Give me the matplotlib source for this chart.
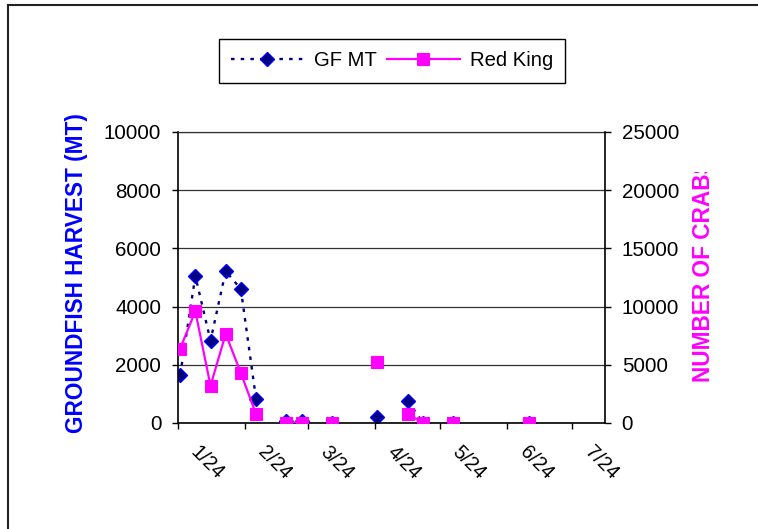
import numpy as np
import matplotlib
matplotlib.use('Agg')
import matplotlib.pyplot as plt
import matplotlib.dates as mdates
import matplotlib.ticker as mticker
import matplotlib.transforms as mtransforms
from matplotlib.lines import Line2D

plt.rcParams['font.family'] = ['Liberation Sans', 'DejaVu Sans']

# weekly samples, nan = no data that week (breaks the line)
week_dates = ['2004-01-25', '2004-02-01', '2004-02-08', '2004-02-15', '2004-02-22',
              '2004-02-29', '2004-03-07', '2004-03-14', '2004-03-21', '2004-03-28',
              '2004-04-04', '2004-04-11', '2004-04-18', '2004-04-25', '2004-05-02',
              '2004-05-09', '2004-05-16', '2004-05-23', '2004-05-30', '2004-06-06',
              '2004-06-13', '2004-06-20', '2004-06-27', '2004-07-04']
gf_mt = [1650, 5050, 2830, 5220, 4600,
         830, np.nan, 60, 60, np.nan,
         10, np.nan, np.nan, 200, np.nan,
         770, 5, np.nan, 5, np.nan,
         np.nan, np.nan, np.nan, 5]
red_king = [6400, 9600, 3200, 7650, 4300,
            750, np.nan, 40, 40, np.nan,
            30, np.nan, np.nan, 5200, np.nan,
            760, 20, np.nan, 20, np.nan,
            np.nan, np.nan, np.nan, 20]

x_start, x_end = '2004-01-24', '2004-08-08'
left_ticks = [0, 2000, 4000, 6000, 8000, 10000]
right_ticks = [0, 5000, 10000, 15000, 20000, 25000]

dates = np.array(week_dates, dtype='datetime64[D]')

W, H = 758, 529
fig = plt.figure(figsize=(W / 100, H / 100), dpi=100)
ax = fig.add_axes([178 / W, 106 / H, 427 / W, 291 / H])
ax2 = ax.twinx()

ax.plot(dates, gf_mt, color='#000080', ls=(0, (1.5, 2.6)), lw=1.7,
        marker='D', ms=7.4, mfc='#000080', mec='#0000ff', mew=1.0, label='GF MT')
ax2.plot(dates, red_king, color='#ff00ff', lw=1.6,
         marker='s', ms=8.5, mfc='#ff00ff', mec='#ff00ff', mew=0.8, label='Red King')

ax.set_xlim(np.datetime64(x_start), np.datetime64(x_end))
ax.set_ylim(left_ticks[0], left_ticks[-1])
ax2.set_ylim(right_ticks[0], right_ticks[-1])
ax.set_yticks(left_ticks)
ax2.set_yticks(right_ticks)

ax.xaxis.set_major_locator(mdates.MonthLocator(bymonthday=24))
ax.xaxis.set_major_formatter(mticker.FuncFormatter(
    lambda v, pos: '%d/%d' % (mdates.num2date(v).month, mdates.num2date(v).day)))

ax.grid(axis='y', color='#333333', lw=0.9)
ax.set_axisbelow(True)

for s in ['left', 'bottom']:
    ax.spines[s].set_color('black')
    ax.spines[s].set_linewidth(1.2)
ax.spines['right'].set_visible(False)
ax.spines['top'].set_color('#333333')
ax.spines['top'].set_linewidth(0.9)
for s in ['left', 'top', 'bottom']:
    ax2.spines[s].set_visible(False)
ax2.spines['right'].set_color('black')
ax2.spines['right'].set_linewidth(1.2)

ax.tick_params(axis='y', direction='out', length=4.5, width=1, pad=7.5, labelsize=14.8)
ax2.tick_params(axis='y', direction='out', length=4.5, width=1, pad=7.5, labelsize=14.8)
ax.tick_params(axis='x', direction='out', length=4.5, width=1, pad=2, labelsize=14.2)

# rotated date labels sit down and to the right of their tick
offset = mtransforms.ScaledTranslation(0.29, -0.305, fig.dpi_scale_trans)
for lab in ax.get_xticklabels():
    lab.set_rotation(-45)
    lab.set_ha('center')
    lab.set_va('center')
    lab.set_transform(lab.get_transform() + offset)

fig.text(77 / W, 1 - 273 / H, 'GROUNDFISH HARVEST (MT)', rotation=90,
         ha='center', va='center', color='#0000ff', fontsize=16.3, fontweight='bold')
crab = fig.text(703 / W, 1 - 382 / H, 'NUMBER OF CRABS', rotation=90,
                ha='center', va='bottom', color='#ff00ff', fontsize=16.3, fontweight='bold')
crab.set_clip_box(mtransforms.TransformedBbox(
    mtransforms.Bbox([[0, 0], [1, 1 - 172 / H]]), fig.transFigure))
crab.set_clip_on(True)

h1, l1 = ax.get_legend_handles_labels()
h2, l2 = ax2.get_legend_handles_labels()
leg = fig.legend(h1 + h2, l1 + l2, loc='center', bbox_to_anchor=(392 / W, 1 - 61 / H),
                 ncol=2, fontsize=14.6, frameon=True, fancybox=False, framealpha=1,
                 edgecolor='black', handlelength=3.6, handletextpad=0.5,
                 columnspacing=0.5, borderpad=0.6, borderaxespad=0)
leg.get_frame().set_linewidth(1.0)

# outer chart border (cut off at right and bottom)
fig.add_artist(Line2D([8 / W, 1], [1 - 5 / H, 1 - 5 / H], color='#222222', lw=1.5))
fig.add_artist(Line2D([8 / W, 8 / W], [0, 1 - 5 / H], color='#222222', lw=1.5))

fig.savefig('out.png', dpi=100)
